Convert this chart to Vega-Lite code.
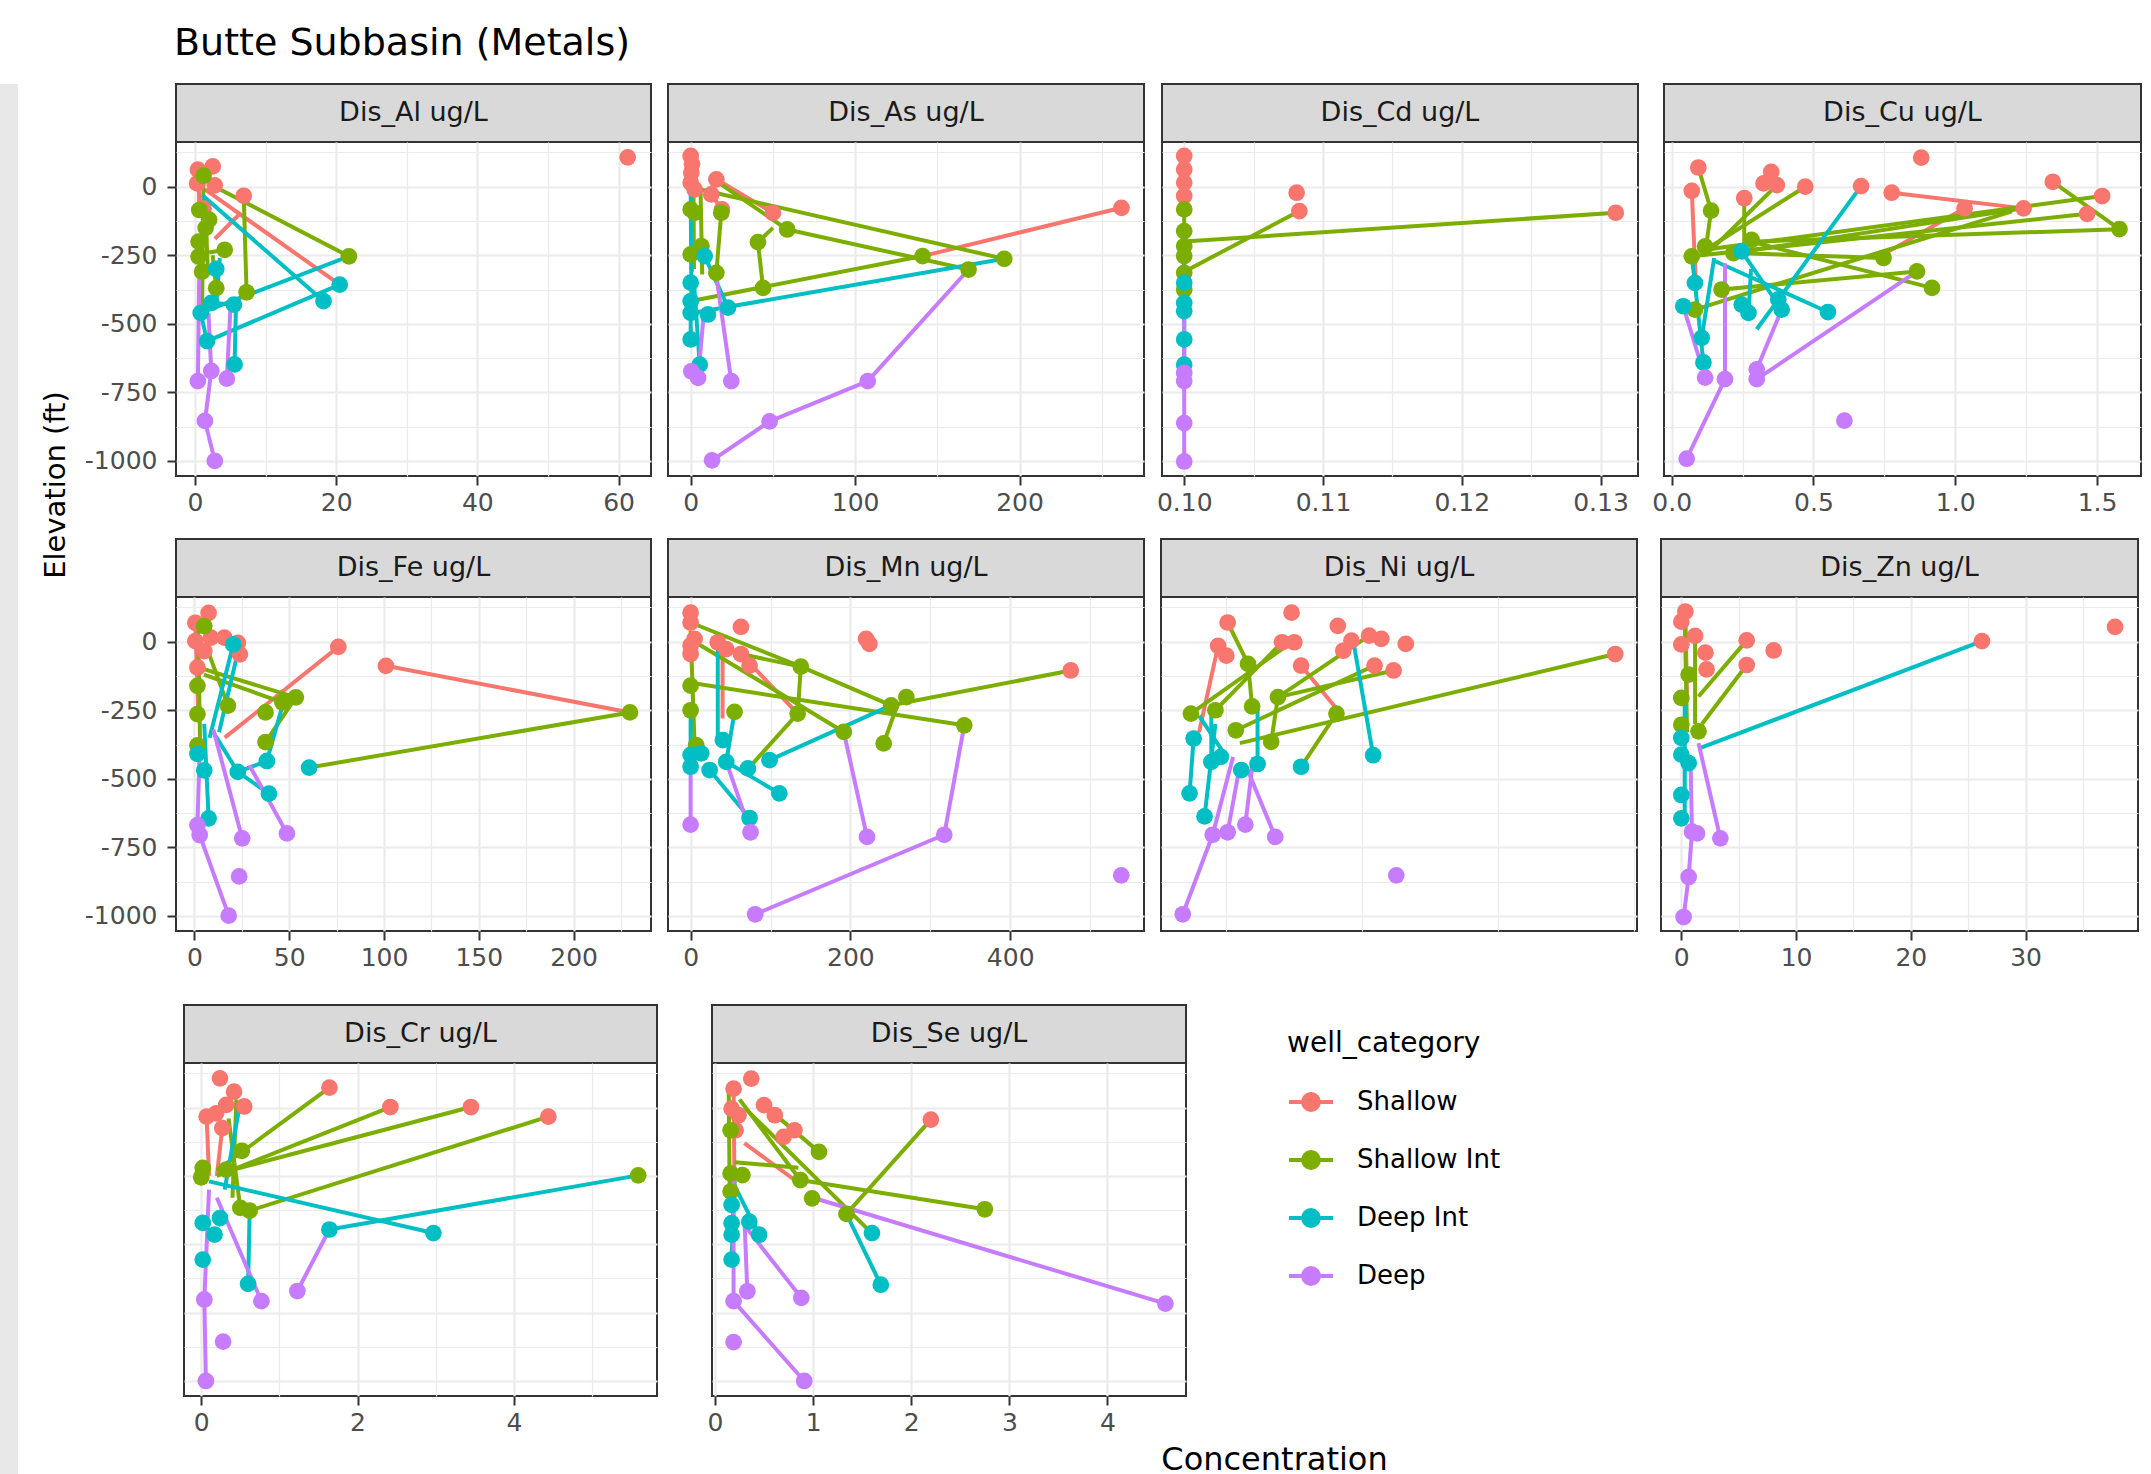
{
  "$schema": "https://vega.github.io/schema/vega-lite/v6.json",
  "background": "white",
  "padding": {"left": 0, "top": 25, "right": 5, "bottom": 0},
  "title": {"text": "Butte Subbasin (Metals)", "anchor": "start", "frame": "group", "fontSize": 38, "fontWeight": "normal", "color": "#000000", "offset": 20, "font": "DejaVu Sans", "dx": 174},
  "config": {
    "font": "DejaVu Sans",
    "view": {"stroke": "#333333", "strokeWidth": 2},
    "axis": {"domain": false, "gridColor": "#EBEBEB", "tickColor": "#333333", "tickWidth": 2, "tickSize": 9, "labelFontSize": 25, "labelColor": "#4D4D4D", "labelPadding": 5, "labelOverlap": false, "labelFlush": false, "labelBound": false, "titleFontSize": 32, "titleFontWeight": "normal", "titleColor": "#000000"},
    "axisY": {"labelPadding": 10}
  },
  "datasets": {
    "pts": [
      {"m":"Al","c":"Shallow","x":0.4,"y":62},{"m":"Al","c":"Shallow","x":2.5,"y":74},{"m":"Al","c":"Shallow","x":0.3,"y":12},{"m":"Al","c":"Shallow","x":2.8,"y":5},{"m":"Al","c":"Shallow","x":6.9,"y":-33},{"m":"Al","c":"Shallow","x":61.3,"y":107},{"m":"Al","c":"Shallow","x":1.2,"y":-80},
      {"m":"Al","c":"Shallow Int","x":0.6,"y":-85},{"m":"Al","c":"Shallow Int","x":0.5,"y":-200},{"m":"Al","c":"Shallow Int","x":0.5,"y":-255},{"m":"Al","c":"Shallow Int","x":1.0,"y":-310},{"m":"Al","c":"Shallow Int","x":4.2,"y":-230},{"m":"Al","c":"Shallow Int","x":3.0,"y":-370},{"m":"Al","c":"Shallow Int","x":7.3,"y":-385},{"m":"Al","c":"Shallow Int","x":21.8,"y":-254},{"m":"Al","c":"Shallow Int","x":1.5,"y":-150},{"m":"Al","c":"Shallow Int","x":2.0,"y":-120},{"m":"Al","c":"Shallow Int","x":1.2,"y":40},
      {"m":"Al","c":"Deep Int","x":20.5,"y":-357},{"m":"Al","c":"Deep Int","x":18.2,"y":-417},{"m":"Al","c":"Deep Int","x":5.6,"y":-648},{"m":"Al","c":"Deep Int","x":1.7,"y":-563},{"m":"Al","c":"Deep Int","x":0.8,"y":-460},{"m":"Al","c":"Deep Int","x":2.3,"y":-424},{"m":"Al","c":"Deep Int","x":5.5,"y":-430},{"m":"Al","c":"Deep Int","x":3.0,"y":-300},
      {"m":"Al","c":"Deep","x":0.4,"y":-709},{"m":"Al","c":"Deep","x":2.3,"y":-672},{"m":"Al","c":"Deep","x":4.5,"y":-700},{"m":"Al","c":"Deep","x":1.4,"y":-854},{"m":"Al","c":"Deep","x":2.8,"y":-1000},

      {"m":"As","c":"Shallow","x":0,"y":112},{"m":"As","c":"Shallow","x":0.8,"y":82},{"m":"As","c":"Shallow","x":0.4,"y":51},{"m":"As","c":"Shallow","x":0,"y":15},{"m":"As","c":"Shallow","x":15.6,"y":27},{"m":"As","c":"Shallow","x":12.5,"y":-28},{"m":"As","c":"Shallow","x":19,"y":-83},{"m":"As","c":"Shallow","x":50,"y":-95},{"m":"As","c":"Shallow","x":262,"y":-77},{"m":"As","c":"Shallow","x":2.4,"y":-10},
      {"m":"As","c":"Shallow Int","x":190.7,"y":-263},{"m":"As","c":"Shallow Int","x":169,"y":-302},{"m":"As","c":"Shallow Int","x":141,"y":-253},{"m":"As","c":"Shallow Int","x":58.7,"y":-156},{"m":"As","c":"Shallow Int","x":40.9,"y":-202},{"m":"As","c":"Shallow Int","x":44,"y":-369},{"m":"As","c":"Shallow Int","x":15.6,"y":-314},{"m":"As","c":"Shallow Int","x":6.5,"y":-217},{"m":"As","c":"Shallow Int","x":2.4,"y":-95},{"m":"As","c":"Shallow Int","x":0,"y":-83},{"m":"As","c":"Shallow Int","x":0,"y":-247},{"m":"As","c":"Shallow Int","x":18.6,"y":-95},
      {"m":"As","c":"Deep Int","x":0,"y":-350},{"m":"As","c":"Deep Int","x":0,"y":-417},{"m":"As","c":"Deep Int","x":0,"y":-460},{"m":"As","c":"Deep Int","x":0,"y":-557},{"m":"As","c":"Deep Int","x":5.5,"y":-649},{"m":"As","c":"Deep Int","x":22.7,"y":-441},{"m":"As","c":"Deep Int","x":10.5,"y":-466},{"m":"As","c":"Deep Int","x":8.5,"y":-253},
      {"m":"As","c":"Deep","x":0.4,"y":-673},{"m":"As","c":"Deep","x":4.5,"y":-697},{"m":"As","c":"Deep","x":24.7,"y":-709},{"m":"As","c":"Deep","x":107.7,"y":-709},{"m":"As","c":"Deep","x":48,"y":-856},{"m":"As","c":"Deep","x":13,"y":-998},

      {"m":"Cd","c":"Shallow","x":0.1,"y":112},{"m":"Cd","c":"Shallow","x":0.1,"y":63},{"m":"Cd","c":"Shallow","x":0.1,"y":15},{"m":"Cd","c":"Shallow","x":0.1,"y":-34},{"m":"Cd","c":"Shallow","x":0.1081,"y":-22},{"m":"Cd","c":"Shallow","x":0.1083,"y":-89},{"m":"Cd","c":"Shallow","x":0.1311,"y":-95},
      {"m":"Cd","c":"Shallow Int","x":0.1,"y":-83},{"m":"Cd","c":"Shallow Int","x":0.1,"y":-162},{"m":"Cd","c":"Shallow Int","x":0.1,"y":-217},{"m":"Cd","c":"Shallow Int","x":0.1,"y":-253},{"m":"Cd","c":"Shallow Int","x":0.1,"y":-314},{"m":"Cd","c":"Shallow Int","x":0.1,"y":-375},
      {"m":"Cd","c":"Deep Int","x":0.1,"y":-350},{"m":"Cd","c":"Deep Int","x":0.1,"y":-424},{"m":"Cd","c":"Deep Int","x":0.1,"y":-454},{"m":"Cd","c":"Deep Int","x":0.1,"y":-557},{"m":"Cd","c":"Deep Int","x":0.1,"y":-649},
      {"m":"Cd","c":"Deep","x":0.1,"y":-679},{"m":"Cd","c":"Deep","x":0.1,"y":-709},{"m":"Cd","c":"Deep","x":0.1,"y":-862},{"m":"Cd","c":"Deep","x":0.1,"y":-1002},

      {"m":"Cu","c":"Shallow","x":0.88,"y":106},{"m":"Cu","c":"Shallow","x":0.094,"y":70},{"m":"Cu","c":"Shallow","x":0.071,"y":-15},{"m":"Cu","c":"Shallow","x":0.256,"y":-42},{"m":"Cu","c":"Shallow","x":0.324,"y":12},{"m":"Cu","c":"Shallow","x":0.351,"y":54},{"m":"Cu","c":"Shallow","x":0.371,"y":6},{"m":"Cu","c":"Shallow","x":0.471,"y":0},{"m":"Cu","c":"Shallow","x":0.668,"y":2},{"m":"Cu","c":"Shallow","x":0.776,"y":-22},{"m":"Cu","c":"Shallow","x":1.033,"y":-79},{"m":"Cu","c":"Shallow","x":1.241,"y":-79},{"m":"Cu","c":"Shallow","x":1.344,"y":18},{"m":"Cu","c":"Shallow","x":1.518,"y":-34},{"m":"Cu","c":"Shallow","x":1.465,"y":-99},
      {"m":"Cu","c":"Shallow Int","x":0.139,"y":-87},{"m":"Cu","c":"Shallow Int","x":1.579,"y":-155},{"m":"Cu","c":"Shallow Int","x":0.918,"y":-369},{"m":"Cu","c":"Shallow Int","x":0.865,"y":-309},{"m":"Cu","c":"Shallow Int","x":0.747,"y":-260},{"m":"Cu","c":"Shallow Int","x":0.282,"y":-194},{"m":"Cu","c":"Shallow Int","x":0.218,"y":-242},{"m":"Cu","c":"Shallow Int","x":0.071,"y":-254},{"m":"Cu","c":"Shallow Int","x":0.118,"y":-218},{"m":"Cu","c":"Shallow Int","x":0.176,"y":-375},{"m":"Cu","c":"Shallow Int","x":0.082,"y":-448},
      {"m":"Cu","c":"Deep Int","x":0.082,"y":-351},{"m":"Cu","c":"Deep Int","x":0.041,"y":-436},{"m":"Cu","c":"Deep Int","x":0.106,"y":-551},{"m":"Cu","c":"Deep Int","x":0.112,"y":-641},{"m":"Cu","c":"Deep Int","x":0.247,"y":-430},{"m":"Cu","c":"Deep Int","x":0.271,"y":-460},{"m":"Cu","c":"Deep Int","x":0.376,"y":-411},{"m":"Cu","c":"Deep Int","x":0.388,"y":-448},{"m":"Cu","c":"Deep Int","x":0.551,"y":-457},{"m":"Cu","c":"Deep Int","x":0.247,"y":-236},
      {"m":"Cu","c":"Deep","x":0.118,"y":-696},{"m":"Cu","c":"Deep","x":0.188,"y":-702},{"m":"Cu","c":"Deep","x":0.3,"y":-702},{"m":"Cu","c":"Deep","x":0.3,"y":-666},{"m":"Cu","c":"Deep","x":0.053,"y":-992},{"m":"Cu","c":"Deep","x":0.609,"y":-853},

      {"m":"Fe","c":"Shallow","x":0.5,"y":69},{"m":"Fe","c":"Shallow","x":7.5,"y":105},{"m":"Fe","c":"Shallow","x":0.5,"y":2},{"m":"Fe","c":"Shallow","x":8.7,"y":15},{"m":"Fe","c":"Shallow","x":15.8,"y":15},{"m":"Fe","c":"Shallow","x":22.9,"y":-4},{"m":"Fe","c":"Shallow","x":24,"y":-46},{"m":"Fe","c":"Shallow","x":1.6,"y":-94},{"m":"Fe","c":"Shallow","x":5.2,"y":-34},{"m":"Fe","c":"Shallow","x":75.9,"y":-19},{"m":"Fe","c":"Shallow","x":101,"y":-88},
      {"m":"Fe","c":"Shallow Int","x":229.7,"y":-258},{"m":"Fe","c":"Shallow Int","x":53.5,"y":-203},{"m":"Fe","c":"Shallow Int","x":46.4,"y":-221},{"m":"Fe","c":"Shallow Int","x":37.5,"y":-258},{"m":"Fe","c":"Shallow Int","x":37.5,"y":-366},{"m":"Fe","c":"Shallow Int","x":17.7,"y":-233},{"m":"Fe","c":"Shallow Int","x":1.6,"y":-161},{"m":"Fe","c":"Shallow Int","x":1.6,"y":-264},{"m":"Fe","c":"Shallow Int","x":1.6,"y":-378},{"m":"Fe","c":"Shallow Int","x":5.2,"y":57},
      {"m":"Fe","c":"Deep Int","x":60.5,"y":-459},{"m":"Fe","c":"Deep Int","x":38.2,"y":-435},{"m":"Fe","c":"Deep Int","x":39.3,"y":-554},{"m":"Fe","c":"Deep Int","x":22.9,"y":-475},{"m":"Fe","c":"Deep Int","x":7.5,"y":-644},{"m":"Fe","c":"Deep Int","x":5.2,"y":-469},{"m":"Fe","c":"Deep Int","x":1.6,"y":-409},{"m":"Fe","c":"Deep Int","x":20.5,"y":-10},
      {"m":"Fe","c":"Deep","x":1.6,"y":-669},{"m":"Fe","c":"Deep","x":2.8,"y":-705},{"m":"Fe","c":"Deep","x":25.2,"y":-717},{"m":"Fe","c":"Deep","x":48.8,"y":-699},{"m":"Fe","c":"Deep","x":23.6,"y":-856},{"m":"Fe","c":"Deep","x":18.1,"y":-999},

      {"m":"Mn","c":"Shallow","x":0,"y":106},{"m":"Mn","c":"Shallow","x":0,"y":70},{"m":"Mn","c":"Shallow","x":63,"y":54},{"m":"Mn","c":"Shallow","x":5,"y":10},{"m":"Mn","c":"Shallow","x":0,"y":-14},{"m":"Mn","c":"Shallow","x":0,"y":-45},{"m":"Mn","c":"Shallow","x":34,"y":-2},{"m":"Mn","c":"Shallow","x":44.6,"y":-27},{"m":"Mn","c":"Shallow","x":63,"y":-45},{"m":"Mn","c":"Shallow","x":73.8,"y":-87},{"m":"Mn","c":"Shallow","x":219.6,"y":10},{"m":"Mn","c":"Shallow","x":223.8,"y":-8},{"m":"Mn","c":"Shallow","x":475.8,"y":-105},
      {"m":"Mn","c":"Shallow Int","x":138,"y":-91},{"m":"Mn","c":"Shallow Int","x":134,"y":-262},{"m":"Mn","c":"Shallow Int","x":251,"y":-232},{"m":"Mn","c":"Shallow Int","x":270,"y":-202},{"m":"Mn","c":"Shallow Int","x":342.5,"y":-305},{"m":"Mn","c":"Shallow Int","x":191.7,"y":-329},{"m":"Mn","c":"Shallow Int","x":241.7,"y":-371},{"m":"Mn","c":"Shallow Int","x":55,"y":-256},{"m":"Mn","c":"Shallow Int","x":0,"y":-160},{"m":"Mn","c":"Shallow Int","x":0,"y":-250},{"m":"Mn","c":"Shallow Int","x":7,"y":-377},
      {"m":"Mn","c":"Deep Int","x":0,"y":-413},{"m":"Mn","c":"Deep Int","x":0,"y":-456},{"m":"Mn","c":"Deep Int","x":13.3,"y":-407},{"m":"Mn","c":"Deep Int","x":23.8,"y":-468},{"m":"Mn","c":"Deep Int","x":40.4,"y":-359},{"m":"Mn","c":"Deep Int","x":44.6,"y":-438},{"m":"Mn","c":"Deep Int","x":71.7,"y":-462},{"m":"Mn","c":"Deep Int","x":98.8,"y":-432},{"m":"Mn","c":"Deep Int","x":111,"y":-553},{"m":"Mn","c":"Deep Int","x":73.8,"y":-643},
      {"m":"Mn","c":"Deep","x":0,"y":-667},{"m":"Mn","c":"Deep","x":75,"y":-695},{"m":"Mn","c":"Deep","x":220.8,"y":-712},{"m":"Mn","c":"Deep","x":317.5,"y":-704},{"m":"Mn","c":"Deep","x":80.8,"y":-994},{"m":"Mn","c":"Deep","x":539,"y":-852},

      {"m":"Ni","c":"Shallow","x":0.98,"y":106},{"m":"Ni","c":"Shallow","x":0.51,"y":70},{"m":"Ni","c":"Shallow","x":0.44,"y":-15},{"m":"Ni","c":"Shallow","x":0.5,"y":-51},{"m":"Ni","c":"Shallow","x":0.91,"y":-2},{"m":"Ni","c":"Shallow","x":1.0,"y":-2},{"m":"Ni","c":"Shallow","x":1.32,"y":58},{"m":"Ni","c":"Shallow","x":1.42,"y":4},{"m":"Ni","c":"Shallow","x":1.36,"y":-33},{"m":"Ni","c":"Shallow","x":1.55,"y":22},{"m":"Ni","c":"Shallow","x":1.64,"y":10},{"m":"Ni","c":"Shallow","x":1.82,"y":-8},{"m":"Ni","c":"Shallow","x":1.73,"y":-105},{"m":"Ni","c":"Shallow","x":1.59,"y":-87},{"m":"Ni","c":"Shallow","x":1.05,"y":-87},{"m":"Ni","c":"Shallow","x":3.36,"y":-45},
      {"m":"Ni","c":"Shallow Int","x":0.66,"y":-81},{"m":"Ni","c":"Shallow Int","x":0.24,"y":-262},{"m":"Ni","c":"Shallow Int","x":0.42,"y":-250},{"m":"Ni","c":"Shallow Int","x":0.69,"y":-236},{"m":"Ni","c":"Shallow Int","x":0.88,"y":-202},{"m":"Ni","c":"Shallow Int","x":1.31,"y":-262},{"m":"Ni","c":"Shallow Int","x":0.83,"y":-365},{"m":"Ni","c":"Shallow Int","x":0.57,"y":-323},
      {"m":"Ni","c":"Deep Int","x":0.26,"y":-353},{"m":"Ni","c":"Deep Int","x":0.23,"y":-553},{"m":"Ni","c":"Deep Int","x":0.34,"y":-637},{"m":"Ni","c":"Deep Int","x":0.39,"y":-438},{"m":"Ni","c":"Deep Int","x":0.46,"y":-420},{"m":"Ni","c":"Deep Int","x":0.61,"y":-468},{"m":"Ni","c":"Deep Int","x":0.73,"y":-446},{"m":"Ni","c":"Deep Int","x":1.05,"y":-456},{"m":"Ni","c":"Deep Int","x":1.58,"y":-414},
      {"m":"Ni","c":"Deep","x":0.4,"y":-704},{"m":"Ni","c":"Deep","x":0.51,"y":-695},{"m":"Ni","c":"Deep","x":0.64,"y":-667},{"m":"Ni","c":"Deep","x":0.86,"y":-712},{"m":"Ni","c":"Deep","x":0.18,"y":-994},{"m":"Ni","c":"Deep","x":1.75,"y":-852},

      {"m":"Zn","c":"Shallow","x":0.35,"y":110},{"m":"Zn","c":"Shallow","x":0,"y":73},{"m":"Zn","c":"Shallow","x":1.2,"y":21},{"m":"Zn","c":"Shallow","x":0,"y":-10},{"m":"Zn","c":"Shallow","x":2.1,"y":-40},{"m":"Zn","c":"Shallow","x":2.2,"y":-101},{"m":"Zn","c":"Shallow","x":5.7,"y":5},{"m":"Zn","c":"Shallow","x":8.05,"y":-32},{"m":"Zn","c":"Shallow","x":5.7,"y":-85},{"m":"Zn","c":"Shallow","x":26.2,"y":2},{"m":"Zn","c":"Shallow","x":37.8,"y":54},
      {"m":"Zn","c":"Shallow Int","x":0,"y":-205},{"m":"Zn","c":"Shallow Int","x":0,"y":-303},{"m":"Zn","c":"Shallow Int","x":1.5,"y":-327},{"m":"Zn","c":"Shallow Int","x":0.64,"y":-120},
      {"m":"Zn","c":"Deep Int","x":0,"y":-351},{"m":"Zn","c":"Deep Int","x":0,"y":-412},{"m":"Zn","c":"Deep Int","x":0.64,"y":-443},{"m":"Zn","c":"Deep Int","x":0,"y":-559},{"m":"Zn","c":"Deep Int","x":0,"y":-644},
      {"m":"Zn","c":"Deep","x":0.93,"y":-693},{"m":"Zn","c":"Deep","x":1.37,"y":-699},{"m":"Zn","c":"Deep","x":3.4,"y":-717},{"m":"Zn","c":"Deep","x":0.64,"y":-858},{"m":"Zn","c":"Deep","x":0.2,"y":-1004},

      {"m":"Cr","c":"Shallow","x":0.24,"y":107},{"m":"Cr","c":"Shallow","x":0.42,"y":58},{"m":"Cr","c":"Shallow","x":0.07,"y":-33},{"m":"Cr","c":"Shallow","x":0.19,"y":-21},{"m":"Cr","c":"Shallow","x":0.32,"y":10},{"m":"Cr","c":"Shallow","x":0.55,"y":4},{"m":"Cr","c":"Shallow","x":0.27,"y":-75},{"m":"Cr","c":"Shallow","x":1.64,"y":73},{"m":"Cr","c":"Shallow","x":2.42,"y":2},{"m":"Cr","c":"Shallow","x":3.45,"y":2},{"m":"Cr","c":"Shallow","x":4.44,"y":-33},
      {"m":"Cr","c":"Shallow Int","x":0.52,"y":-158},{"m":"Cr","c":"Shallow Int","x":0.02,"y":-221},{"m":"Cr","c":"Shallow Int","x":0,"y":-255},{"m":"Cr","c":"Shallow Int","x":0.5,"y":-367},{"m":"Cr","c":"Shallow Int","x":0.62,"y":-377},{"m":"Cr","c":"Shallow Int","x":5.59,"y":-248},{"m":"Cr","c":"Shallow Int","x":0.32,"y":-227},
      {"m":"Cr","c":"Deep Int","x":2.97,"y":-459},{"m":"Cr","c":"Deep Int","x":1.64,"y":-446},{"m":"Cr","c":"Deep Int","x":0.02,"y":-422},{"m":"Cr","c":"Deep Int","x":0.17,"y":-465},{"m":"Cr","c":"Deep Int","x":0.02,"y":-556},{"m":"Cr","c":"Deep Int","x":0.6,"y":-645},{"m":"Cr","c":"Deep Int","x":0.24,"y":-404},
      {"m":"Cr","c":"Deep","x":0.04,"y":-702},{"m":"Cr","c":"Deep","x":0.77,"y":-708},{"m":"Cr","c":"Deep","x":1.23,"y":-671},{"m":"Cr","c":"Deep","x":0.28,"y":-856},{"m":"Cr","c":"Deep","x":0.06,"y":-1000},

      {"m":"Se","c":"Shallow","x":0.37,"y":106},{"m":"Se","c":"Shallow","x":0.19,"y":69},{"m":"Se","c":"Shallow","x":0.17,"y":-4},{"m":"Se","c":"Shallow","x":0.24,"y":-28},{"m":"Se","c":"Shallow","x":0.5,"y":9},{"m":"Se","c":"Shallow","x":0.61,"y":-28},{"m":"Se","c":"Shallow","x":0.81,"y":-83},{"m":"Se","c":"Shallow","x":0.7,"y":-107},{"m":"Se","c":"Shallow","x":2.2,"y":-44},{"m":"Se","c":"Shallow","x":0.21,"y":-83},
      {"m":"Se","c":"Shallow Int","x":1.06,"y":-162},{"m":"Se","c":"Shallow Int","x":0.87,"y":-265},{"m":"Se","c":"Shallow Int","x":0.99,"y":-332},{"m":"Se","c":"Shallow Int","x":1.34,"y":-389},{"m":"Se","c":"Shallow Int","x":2.75,"y":-372},{"m":"Se","c":"Shallow Int","x":0.16,"y":-83},{"m":"Se","c":"Shallow Int","x":0.16,"y":-241},{"m":"Se","c":"Shallow Int","x":0.16,"y":-307},{"m":"Se","c":"Shallow Int","x":0.28,"y":-247},
      {"m":"Se","c":"Deep Int","x":1.6,"y":-459},{"m":"Se","c":"Deep Int","x":1.69,"y":-648},{"m":"Se","c":"Deep Int","x":0.17,"y":-356},{"m":"Se","c":"Deep Int","x":0.17,"y":-423},{"m":"Se","c":"Deep Int","x":0.17,"y":-465},{"m":"Se","c":"Deep Int","x":0.45,"y":-465},{"m":"Se","c":"Deep Int","x":0.17,"y":-556},{"m":"Se","c":"Deep Int","x":0.35,"y":-417},
      {"m":"Se","c":"Deep","x":4.59,"y":-717},{"m":"Se","c":"Deep","x":0.19,"y":-708},{"m":"Se","c":"Deep","x":0.33,"y":-672},{"m":"Se","c":"Deep","x":0.88,"y":-696},{"m":"Se","c":"Deep","x":0.19,"y":-858},{"m":"Se","c":"Deep","x":0.91,"y":-1000}
    ],
    "seg": [
      {"m":"Al","c":"Shallow","x":1.4,"y":-10,"x2":20.5,"y2":-357},{"m":"Al","c":"Shallow","x":2.8,"y":-190,"x2":6.5,"y2":-95},{"m":"Al","c":"Shallow","x":0.5,"y":60,"x2":0.6,"y2":-85},
      {"m":"Al","c":"Shallow Int","x":2.8,"y":0,"x2":21.8,"y2":-254},{"m":"Al","c":"Shallow Int","x":6.9,"y":-40,"x2":7.3,"y2":-385},{"m":"Al","c":"Shallow Int","x":1.2,"y":40,"x2":1.0,"y2":-450},{"m":"Al","c":"Shallow Int","x":1.5,"y":-100,"x2":1.8,"y2":-300},{"m":"Al","c":"Shallow Int","x":2.0,"y":-240,"x2":4.2,"y2":-230},{"m":"Al","c":"Shallow Int","x":3.0,"y":-370,"x2":2.5,"y2":-250},
      {"m":"Al","c":"Deep Int","x":21.8,"y":-254,"x2":0.8,"y2":-460},{"m":"Al","c":"Deep Int","x":1.7,"y":-563,"x2":20.5,"y2":-357},{"m":"Al","c":"Deep Int","x":1.0,"y":-30,"x2":18.2,"y2":-417},{"m":"Al","c":"Deep Int","x":3.5,"y":-260,"x2":3.0,"y2":-430},{"m":"Al","c":"Deep Int","x":5.8,"y":-430,"x2":5.6,"y2":-648},{"m":"Al","c":"Deep Int","x":0.8,"y":-460,"x2":1.7,"y2":-563},{"m":"Al","c":"Deep Int","x":2.3,"y":-424,"x2":5.5,"y2":-430},
      {"m":"Al","c":"Deep","x":0.6,"y":-310,"x2":0.4,"y2":-709},{"m":"Al","c":"Deep","x":2.3,"y":-672,"x2":1.4,"y2":-854},{"m":"Al","c":"Deep","x":1.4,"y":-854,"x2":2.8,"y2":-1000},{"m":"Al","c":"Deep","x":5.0,"y":-450,"x2":4.5,"y2":-700},{"m":"Al","c":"Deep","x":1.9,"y":-460,"x2":2.3,"y2":-672},

      {"m":"As","c":"Shallow","x":0.8,"y":100,"x2":0.8,"y2":-310},{"m":"As","c":"Shallow","x":12.5,"y":-28,"x2":19,"y2":-83},{"m":"As","c":"Shallow","x":262,"y":-77,"x2":141,"y2":-253},{"m":"As","c":"Shallow","x":15.6,"y":27,"x2":50,"y2":-95},
      {"m":"As","c":"Shallow Int","x":6,"y":-10,"x2":190.7,"y2":-263},{"m":"As","c":"Shallow Int","x":18,"y":10,"x2":58.7,"y2":-156},{"m":"As","c":"Shallow Int","x":58.7,"y":-156,"x2":169,"y2":-302},{"m":"As","c":"Shallow Int","x":40.9,"y":-202,"x2":44,"y2":-369},{"m":"As","c":"Shallow Int","x":50,"y":-150,"x2":40.9,"y2":-202},{"m":"As","c":"Shallow Int","x":2,"y":-415,"x2":141,"y2":-253},{"m":"As","c":"Shallow Int","x":1.6,"y":70,"x2":2,"y2":-300},{"m":"As","c":"Shallow Int","x":6,"y":-10,"x2":7,"y2":-320},{"m":"As","c":"Shallow Int","x":18.6,"y":-95,"x2":15.6,"y2":-314},
      {"m":"As","c":"Deep Int","x":190.7,"y":-263,"x2":2,"y2":-460},{"m":"As","c":"Deep Int","x":0,"y":-15,"x2":0.5,"y2":-460},{"m":"As","c":"Deep Int","x":8.5,"y":-253,"x2":22.7,"y2":-441},{"m":"As","c":"Deep Int","x":2,"y":-350,"x2":5.5,"y2":-649},{"m":"As","c":"Deep Int","x":0,"y":-460,"x2":0,"y2":-557},
      {"m":"As","c":"Deep","x":13,"y":-998,"x2":48,"y2":-856},{"m":"As","c":"Deep","x":48,"y":-856,"x2":107.7,"y2":-709},{"m":"As","c":"Deep","x":107.7,"y":-709,"x2":169,"y2":-302},{"m":"As","c":"Deep","x":15,"y":-300,"x2":24.7,"y2":-709},{"m":"As","c":"Deep","x":8,"y":-460,"x2":4.5,"y2":-697},

      {"m":"Cd","c":"Shallow","x":0.1,"y":112,"x2":0.1,"y2":-34},
      {"m":"Cd","c":"Shallow Int","x":0.1,"y":-200,"x2":0.1311,"y2":-95},{"m":"Cd","c":"Shallow Int","x":0.1,"y":-310,"x2":0.1083,"y2":-89},{"m":"Cd","c":"Shallow Int","x":0.1,"y":60,"x2":0.1,"y2":-400},
      {"m":"Cd","c":"Deep Int","x":0.1,"y":-260,"x2":0.1,"y2":-650},
      {"m":"Cd","c":"Deep","x":0.1,"y":-470,"x2":0.1,"y2":-1002},

      {"m":"Cu","c":"Shallow","x":0.776,"y":-22,"x2":1.241,"y2":-79},{"m":"Cu","c":"Shallow","x":1.033,"y":-79,"x2":0.75,"y2":-245},{"m":"Cu","c":"Shallow","x":0.071,"y":-15,"x2":0.085,"y2":-350},
      {"m":"Cu","c":"Shallow Int","x":0.094,"y":70,"x2":0.139,"y2":-87},{"m":"Cu","c":"Shallow Int","x":0.139,"y":-87,"x2":0.12,"y2":-230},{"m":"Cu","c":"Shallow Int","x":1.344,"y":18,"x2":1.579,"y2":-155},{"m":"Cu","c":"Shallow Int","x":1.579,"y":-155,"x2":0.3,"y2":-200},{"m":"Cu","c":"Shallow Int","x":1.518,"y":-34,"x2":0.118,"y2":-230},{"m":"Cu","c":"Shallow Int","x":1.465,"y":-99,"x2":0.07,"y2":-254},{"m":"Cu","c":"Shallow Int","x":1.241,"y":-79,"x2":0.218,"y2":-242},{"m":"Cu","c":"Shallow Int","x":0.747,"y":-260,"x2":0.218,"y2":-242},{"m":"Cu","c":"Shallow Int","x":0.865,"y":-309,"x2":0.176,"y2":-375},{"m":"Cu","c":"Shallow Int","x":0.918,"y":-369,"x2":0.28,"y2":-200},{"m":"Cu","c":"Shallow Int","x":1.2,"y":-90,"x2":0.082,"y2":-448},{"m":"Cu","c":"Shallow Int","x":0.471,"y":0,"x2":0.12,"y2":-230},{"m":"Cu","c":"Shallow Int","x":0.371,"y":6,"x2":0.139,"y2":-230},{"m":"Cu","c":"Shallow Int","x":0.256,"y":-42,"x2":0.256,"y2":-250},
      {"m":"Cu","c":"Deep Int","x":0.668,"y":2,"x2":0.3,"y2":-520},{"m":"Cu","c":"Deep Int","x":0.247,"y":-236,"x2":0.388,"y2":-448},{"m":"Cu","c":"Deep Int","x":0.15,"y":-270,"x2":0.551,"y2":-457},{"m":"Cu","c":"Deep Int","x":0.071,"y":-254,"x2":0.082,"y2":-351},{"m":"Cu","c":"Deep Int","x":0.082,"y":-351,"x2":0.112,"y2":-641},{"m":"Cu","c":"Deep Int","x":0.15,"y":-260,"x2":0.106,"y2":-551},{"m":"Cu","c":"Deep Int","x":0.28,"y":-300,"x2":0.271,"y2":-460},
      {"m":"Cu","c":"Deep","x":0.041,"y":-436,"x2":0.118,"y2":-696},{"m":"Cu","c":"Deep","x":0.188,"y":-280,"x2":0.188,"y2":-702},{"m":"Cu","c":"Deep","x":0.188,"y":-702,"x2":0.053,"y2":-992},{"m":"Cu","c":"Deep","x":0.388,"y":-448,"x2":0.3,"y2":-666},{"m":"Cu","c":"Deep","x":0.3,"y":-702,"x2":0.865,"y2":-309},

      {"m":"Fe","c":"Shallow","x":101,"y":-88,"x2":229.7,"y2":-258},{"m":"Fe","c":"Shallow","x":75.9,"y":-19,"x2":16,"y2":-350},{"m":"Fe","c":"Shallow","x":0.5,"y":69,"x2":2,"y2":-250},
      {"m":"Fe","c":"Shallow Int","x":229.7,"y":-258,"x2":60.5,"y2":-459},{"m":"Fe","c":"Shallow Int","x":5,"y":-100,"x2":53.5,"y2":-203},{"m":"Fe","c":"Shallow Int","x":5,"y":-120,"x2":46.4,"y2":-221},{"m":"Fe","c":"Shallow Int","x":53.5,"y":-203,"x2":37.5,"y2":-366},{"m":"Fe","c":"Shallow Int","x":2,"y":60,"x2":3,"y2":-380},{"m":"Fe","c":"Shallow Int","x":8,"y":-50,"x2":17.7,"y2":-233},
      {"m":"Fe","c":"Deep Int","x":20.5,"y":-10,"x2":8,"y2":-350},{"m":"Fe","c":"Deep Int","x":22.5,"y":-50,"x2":13,"y2":-330},{"m":"Fe","c":"Deep Int","x":47,"y":-220,"x2":38.2,"y2":-435},{"m":"Fe","c":"Deep Int","x":22.9,"y":-475,"x2":39.3,"y2":-554},{"m":"Fe","c":"Deep Int","x":10,"y":-330,"x2":22.9,"y2":-475},{"m":"Fe","c":"Deep Int","x":5.2,"y":-300,"x2":7.5,"y2":-644},{"m":"Fe","c":"Deep Int","x":38.2,"y":-435,"x2":22.9,"y2":-475},
      {"m":"Fe","c":"Deep","x":2.8,"y":-705,"x2":18.1,"y2":-999},{"m":"Fe","c":"Deep","x":10,"y":-320,"x2":25.2,"y2":-717},{"m":"Fe","c":"Deep","x":29,"y":-450,"x2":48.8,"y2":-699},{"m":"Fe","c":"Deep","x":3,"y":-350,"x2":1.6,"y2":-669},

      {"m":"Mn","c":"Shallow","x":40,"y":-2,"x2":40,"y2":-280},{"m":"Mn","c":"Shallow","x":63,"y":-45,"x2":130,"y2":-250},
      {"m":"Mn","c":"Shallow Int","x":0,"y":70,"x2":138,"y2":-91},{"m":"Mn","c":"Shallow Int","x":63,"y":-45,"x2":138,"y2":-91},{"m":"Mn","c":"Shallow Int","x":138,"y":-91,"x2":251,"y2":-232},{"m":"Mn","c":"Shallow Int","x":251,"y":-232,"x2":475.8,"y2":-105},{"m":"Mn","c":"Shallow Int","x":138,"y":-91,"x2":134,"y2":-262},{"m":"Mn","c":"Shallow Int","x":0,"y":-150,"x2":342.5,"y2":-305},{"m":"Mn","c":"Shallow Int","x":5,"y":0,"x2":191.7,"y2":-329},{"m":"Mn","c":"Shallow Int","x":260,"y":-220,"x2":241.7,"y2":-371},{"m":"Mn","c":"Shallow Int","x":134,"y":-262,"x2":73,"y2":-460},{"m":"Mn","c":"Shallow Int","x":0,"y":40,"x2":5,"y2":-377},
      {"m":"Mn","c":"Deep Int","x":251,"y":-232,"x2":98.8,"y2":-432},{"m":"Mn","c":"Deep Int","x":34,"y":-10,"x2":34,"y2":-359},{"m":"Mn","c":"Deep Int","x":55,"y":-256,"x2":44.6,"y2":-438},{"m":"Mn","c":"Deep Int","x":44.6,"y":-438,"x2":111,"y2":-553},{"m":"Mn","c":"Deep Int","x":23.8,"y":-468,"x2":73.8,"y2":-643},{"m":"Mn","c":"Deep Int","x":0,"y":-250,"x2":0,"y2":-456},
      {"m":"Mn","c":"Deep","x":80.8,"y":-994,"x2":317.5,"y2":-704},{"m":"Mn","c":"Deep","x":317.5,"y":-704,"x2":342.5,"y2":-305},{"m":"Mn","c":"Deep","x":191.7,"y":-329,"x2":220.8,"y2":-712},{"m":"Mn","c":"Deep","x":45,"y":-440,"x2":75,"y2":-695},{"m":"Mn","c":"Deep","x":0,"y":-456,"x2":0,"y2":-667},

      {"m":"Ni","c":"Shallow","x":0.44,"y":-15,"x2":0.3,"y2":-330},{"m":"Ni","c":"Shallow","x":1.05,"y":-87,"x2":1.32,"y2":-250},
      {"m":"Ni","c":"Shallow Int","x":0.51,"y":70,"x2":0.66,"y2":-81},{"m":"Ni","c":"Shallow Int","x":0.66,"y":-81,"x2":0.69,"y2":-236},{"m":"Ni","c":"Shallow Int","x":0.98,"y":-2,"x2":0.24,"y2":-262},{"m":"Ni","c":"Shallow Int","x":0.91,"y":-2,"x2":0.42,"y2":-250},{"m":"Ni","c":"Shallow Int","x":1.55,"y":22,"x2":0.88,"y2":-202},{"m":"Ni","c":"Shallow Int","x":1.59,"y":-87,"x2":0.57,"y2":-323},{"m":"Ni","c":"Shallow Int","x":1.73,"y":-105,"x2":0.88,"y2":-202},{"m":"Ni","c":"Shallow Int","x":3.36,"y":-45,"x2":0.6,"y2":-370},{"m":"Ni","c":"Shallow Int","x":1.31,"y":-262,"x2":1.05,"y2":-456},{"m":"Ni","c":"Shallow Int","x":0.88,"y":-202,"x2":0.83,"y2":-365},
      {"m":"Ni","c":"Deep Int","x":1.44,"y":-15,"x2":1.58,"y2":-414},{"m":"Ni","c":"Deep Int","x":0.26,"y":-353,"x2":0.23,"y2":-553},{"m":"Ni","c":"Deep Int","x":0.39,"y":-250,"x2":0.39,"y2":-438},{"m":"Ni","c":"Deep Int","x":0.42,"y":-300,"x2":0.34,"y2":-637},{"m":"Ni","c":"Deep Int","x":0.73,"y":-250,"x2":0.73,"y2":-446},{"m":"Ni","c":"Deep Int","x":0.3,"y":-270,"x2":0.5,"y2":-420},
      {"m":"Ni","c":"Deep","x":0.18,"y":-994,"x2":0.4,"y2":-704},{"m":"Ni","c":"Deep","x":0.4,"y":-704,"x2":0.55,"y2":-420},{"m":"Ni","c":"Deep","x":0.64,"y":-667,"x2":0.7,"y2":-420},{"m":"Ni","c":"Deep","x":0.65,"y":-460,"x2":0.86,"y2":-712},{"m":"Ni","c":"Deep","x":0.51,"y":-695,"x2":0.6,"y2":-450},

      {"m":"Zn","c":"Shallow","x":0.35,"y":110,"x2":0.5,"y2":-200},
      {"m":"Zn","c":"Shallow Int","x":5.7,"y":5,"x2":1.5,"y2":-200},{"m":"Zn","c":"Shallow Int","x":5.7,"y":-85,"x2":1.8,"y2":-300},{"m":"Zn","c":"Shallow Int","x":0.3,"y":80,"x2":0.5,"y2":-330},{"m":"Zn","c":"Shallow Int","x":1.2,"y":21,"x2":1.2,"y2":-300},
      {"m":"Zn","c":"Deep Int","x":26.2,"y":2,"x2":1.5,"y2":-390},{"m":"Zn","c":"Deep Int","x":0.3,"y":-230,"x2":0.3,"y2":-650},
      {"m":"Zn","c":"Deep","x":0.2,"y":-1004,"x2":0.64,"y2":-858},{"m":"Zn","c":"Deep","x":0.64,"y":-858,"x2":0.93,"y2":-693},{"m":"Zn","c":"Deep","x":0.93,"y":-693,"x2":0.8,"y2":-420},{"m":"Zn","c":"Deep","x":1.5,"y":-370,"x2":3.4,"y2":-717},

      {"m":"Cr","c":"Shallow","x":0.07,"y":-33,"x2":0.1,"y2":-250},{"m":"Cr","c":"Shallow","x":0.27,"y":-75,"x2":0.2,"y2":-250},
      {"m":"Cr","c":"Shallow Int","x":0.2,"y":-230,"x2":1.64,"y2":73},{"m":"Cr","c":"Shallow Int","x":0.2,"y":-250,"x2":2.42,"y2":2},{"m":"Cr","c":"Shallow Int","x":0.3,"y":-235,"x2":3.45,"y2":2},{"m":"Cr","c":"Shallow Int","x":0.62,"y":-377,"x2":4.44,"y2":-33},{"m":"Cr","c":"Shallow Int","x":0.45,"y":30,"x2":0.4,"y2":-330},{"m":"Cr","c":"Shallow Int","x":0.35,"y":-40,"x2":0.5,"y2":-367},
      {"m":"Cr","c":"Deep Int","x":0.1,"y":-270,"x2":2.97,"y2":-459},{"m":"Cr","c":"Deep Int","x":1.64,"y":-446,"x2":5.59,"y2":-248},{"m":"Cr","c":"Deep Int","x":0.62,"y":-377,"x2":0.6,"y2":-645},{"m":"Cr","c":"Deep Int","x":0.5,"y":20,"x2":0.3,"y2":-300},
      {"m":"Cr","c":"Deep","x":0.06,"y":-1000,"x2":0.04,"y2":-702},{"m":"Cr","c":"Deep","x":0.04,"y":-702,"x2":0.1,"y2":-300},{"m":"Cr","c":"Deep","x":1.23,"y":-671,"x2":1.64,"y2":-446},{"m":"Cr","c":"Deep","x":0.2,"y":-330,"x2":0.77,"y2":-708},

      {"m":"Se","c":"Shallow","x":0.19,"y":69,"x2":0.2,"y2":-300},{"m":"Se","c":"Shallow","x":0.3,"y":-130,"x2":0.85,"y2":-275},
      {"m":"Se","c":"Shallow Int","x":0.5,"y":9,"x2":1.06,"y2":-162},{"m":"Se","c":"Shallow Int","x":0.25,"y":30,"x2":0.87,"y2":-265},{"m":"Se","c":"Shallow Int","x":0.87,"y":-265,"x2":2.75,"y2":-372},{"m":"Se","c":"Shallow Int","x":2.2,"y":-44,"x2":1.34,"y2":-389},{"m":"Se","c":"Shallow Int","x":0.3,"y":0,"x2":1.6,"y2":-460},{"m":"Se","c":"Shallow Int","x":0.2,"y":-200,"x2":0.85,"y2":-220},{"m":"Se","c":"Shallow Int","x":0.14,"y":80,"x2":0.15,"y2":-300},
      {"m":"Se","c":"Deep Int","x":1.34,"y":-389,"x2":1.69,"y2":-648},{"m":"Se","c":"Deep Int","x":0.15,"y":-250,"x2":0.45,"y2":-465},{"m":"Se","c":"Deep Int","x":0.2,"y":-250,"x2":0.17,"y2":-556},
      {"m":"Se","c":"Deep","x":1.0,"y":-330,"x2":4.59,"y2":-717},{"m":"Se","c":"Deep","x":0.19,"y":-708,"x2":0.91,"y2":-1000},{"m":"Se","c":"Deep","x":0.19,"y":-250,"x2":0.19,"y2":-708},{"m":"Se","c":"Deep","x":0.3,"y":-400,"x2":0.33,"y2":-672},{"m":"Se","c":"Deep","x":0.3,"y":-430,"x2":0.88,"y2":-696}
    ]
  },
  "hconcat": [
    {"width": 18, "height": 1400, "view": {"fill": "#E8E8E8", "stroke": null}, "data": {"values": [{"t": ""}]}, "mark": {"type": "text"}, "encoding": {"text": {"field": "t"}}},
    {
      "hconcat": [
        {"width": 30, "height": 802, "view": {"fill": "#FFFFFF", "stroke": null}, "data": {"values": [{"t": "Elevation (ft)"}]}, "mark": {"type": "text", "angle": 270, "fontSize": 29, "baseline": "middle", "color": "#000000"}, "encoding": {"text": {"field": "t"}}},
        {
          "vconcat": [
            {
              "vconcat": [
                {
                  "hconcat": [
                    {
                      "hconcat": [
                        {
                          "hconcat": [
                            {"vconcat": [
                              {"width": 475, "height": 58, "view": {"fill": "#D9D9D9", "stroke": "#333333", "strokeWidth": 2}, "data": {"values": [{"t": "Dis_Al ug/L"}]}, "mark": {"type": "text", "fontSize": 27, "color": "#1A1A1A", "baseline": "middle"}, "encoding": {"text": {"field": "t"}}},
                              {"width": 475, "height": 334,
                               "encoding": {
                                 "x": {"field": "x", "type": "quantitative", "scale": {"domain": [-2.7, 64.6], "nice": false, "zero": false}, "axis": {"values": [0,10,20,30,40,50,60], "format": "d", "labelExpr": "indexof([10,30,50], datum.value) >= 0 ? '' : datum.label", "gridWidth": {"condition": {"test": "indexof([10,30,50], datum.value) >= 0", "value": 1.2}, "value": 2.2}, "tickOpacity": {"condition": {"test": "indexof([10,30,50], datum.value) >= 0", "value": 0}, "value": 1}, "title": null}},
                                 "y": {"field": "y", "type": "quantitative", "scale": {"domain": [-1055, 163], "nice": false, "zero": false}, "axis": {"values": [-1000,-875,-750,-625,-500,-375,-250,-125,0,125], "labelExpr": "datum.value % 250 === 0 ? '' + datum.value : ''", "gridWidth": {"condition": {"test": "datum.value % 250 !== 0", "value": 1.2}, "value": 2.2}, "tickOpacity": {"condition": {"test": "datum.value % 250 !== 0", "value": 0}, "value": 1}, "title": null}},
                                 "color": {"field": "c", "type": "nominal", "scale": {"domain": ["Shallow","Shallow Int","Deep Int","Deep"], "range": ["#F8766D","#7CAE00","#00BFC4","#C77CFF"]},
                                   "legend": {"title": "well_category", "orient": "none", "legendX": 1287, "legendY": 946, "symbolType": "M-1,0L1,0M0.36,0A0.36,0.36,0,1,1,-0.36,0A0.36,0.36,0,1,1,0.36,0Z", "symbolSize": 1936, "symbolStrokeWidth": 4, "labelFontSize": 26, "labelColor": "#000000", "titleFontSize": 28, "titleFontWeight": "normal", "titleColor": "#000000", "titleLimit": 500, "rowPadding": 18, "titlePadding": 20, "labelOffset": 22, "padding": 0,
                                     "encode": {"symbols": {"update": {"fill": {"scale": "color", "field": "value"}, "stroke": {"scale": "color", "field": "value"}, "opacity": {"value": 1}}}}}}
                               },
                               "layer": [
                                 {"data": {"name": "seg"}, "transform": [{"filter": "datum.m === 'Al'"}], "mark": {"type": "rule", "strokeWidth": 4}, "encoding": {"x2": {"field": "x2"}, "y2": {"field": "y2"}}},
                                 {"data": {"name": "pts"}, "transform": [{"filter": "datum.m === 'Al'"}], "mark": {"type": "circle", "size": 280, "opacity": 1}}
                               ]}
                            ], "spacing": 0, "bounds": "flush"},
                            {"vconcat": [
                              {"width": 476, "height": 58, "view": {"fill": "#D9D9D9", "stroke": "#333333", "strokeWidth": 2}, "data": {"values": [{"t": "Dis_As ug/L"}]}, "mark": {"type": "text", "fontSize": 27, "color": "#1A1A1A", "baseline": "middle"}, "encoding": {"text": {"field": "t"}}},
                              {"width": 476, "height": 334,
                               "encoding": {
                                 "x": {"field": "x", "type": "quantitative", "scale": {"domain": [-13.8, 275.7], "nice": false, "zero": false}, "axis": {"values": [0,50,100,150,200,250], "format": "d", "labelExpr": "indexof([50,150,250], datum.value) >= 0 ? '' : datum.label", "gridWidth": {"condition": {"test": "indexof([50,150,250], datum.value) >= 0", "value": 1.2}, "value": 2.2}, "tickOpacity": {"condition": {"test": "indexof([50,150,250], datum.value) >= 0", "value": 0}, "value": 1}, "title": null}},
                                 "y": {"field": "y", "type": "quantitative", "scale": {"domain": [-1055, 163], "nice": false, "zero": false}, "axis": {"values": [-1000,-875,-750,-625,-500,-375,-250,-125,0,125], "labels": false, "ticks": false, "gridWidth": {"condition": {"test": "datum.value % 250 !== 0", "value": 1.2}, "value": 2.2}, "title": null}},
                                 "color": {"field": "c", "type": "nominal", "scale": {"domain": ["Shallow","Shallow Int","Deep Int","Deep"], "range": ["#F8766D","#7CAE00","#00BFC4","#C77CFF"]}, "legend": null}
                               },
                               "layer": [
                                 {"data": {"name": "seg"}, "transform": [{"filter": "datum.m === 'As'"}], "mark": {"type": "rule", "strokeWidth": 4}, "encoding": {"x2": {"field": "x2"}, "y2": {"field": "y2"}}},
                                 {"data": {"name": "pts"}, "transform": [{"filter": "datum.m === 'As'"}], "mark": {"type": "circle", "size": 280, "opacity": 1}}
                               ]}
                            ], "spacing": 0, "bounds": "flush"}
                          ],
                          "spacing": 15
                        },
                        {"vconcat": [
                          {"width": 476, "height": 58, "view": {"fill": "#D9D9D9", "stroke": "#333333", "strokeWidth": 2}, "data": {"values": [{"t": "Dis_Cd ug/L"}]}, "mark": {"type": "text", "fontSize": 27, "color": "#1A1A1A", "baseline": "middle"}, "encoding": {"text": {"field": "t"}}},
                          {"width": 476, "height": 334,
                           "encoding": {
                             "x": {"field": "x", "type": "quantitative", "scale": {"domain": [0.0984, 0.1327], "nice": false, "zero": false}, "axis": {"values": [0.1,0.105,0.11,0.115,0.12,0.125,0.13], "format": ".2f", "labelExpr": "indexof([0.105,0.115,0.125], datum.value) >= 0 ? '' : datum.label", "gridWidth": {"condition": {"test": "indexof([0.105,0.115,0.125], datum.value) >= 0", "value": 1.2}, "value": 2.2}, "tickOpacity": {"condition": {"test": "indexof([0.105,0.115,0.125], datum.value) >= 0", "value": 0}, "value": 1}, "title": null}},
                             "y": {"field": "y", "type": "quantitative", "scale": {"domain": [-1055, 163], "nice": false, "zero": false}, "axis": {"values": [-1000,-875,-750,-625,-500,-375,-250,-125,0,125], "labels": false, "ticks": false, "gridWidth": {"condition": {"test": "datum.value % 250 !== 0", "value": 1.2}, "value": 2.2}, "title": null}},
                             "color": {"field": "c", "type": "nominal", "scale": {"domain": ["Shallow","Shallow Int","Deep Int","Deep"], "range": ["#F8766D","#7CAE00","#00BFC4","#C77CFF"]}, "legend": null}
                           },
                           "layer": [
                             {"data": {"name": "seg"}, "transform": [{"filter": "datum.m === 'Cd'"}], "mark": {"type": "rule", "strokeWidth": 4}, "encoding": {"x2": {"field": "x2"}, "y2": {"field": "y2"}}},
                             {"data": {"name": "pts"}, "transform": [{"filter": "datum.m === 'Cd'"}], "mark": {"type": "circle", "size": 280, "opacity": 1}}
                           ]}
                        ], "spacing": 0, "bounds": "flush"}
                      ],
                      "spacing": 10
                    },
                    {"vconcat": [
                      {"width": 477, "height": 58, "view": {"fill": "#D9D9D9", "stroke": "#333333", "strokeWidth": 2}, "data": {"values": [{"t": "Dis_Cu ug/L"}]}, "mark": {"type": "text", "fontSize": 27, "color": "#1A1A1A", "baseline": "middle"}, "encoding": {"text": {"field": "t"}}},
                      {"width": 477, "height": 334,
                       "encoding": {
                         "x": {"field": "x", "type": "quantitative", "scale": {"domain": [-0.027, 1.655], "nice": false, "zero": false}, "axis": {"values": [0,0.25,0.5,0.75,1,1.25,1.5], "format": ".1f", "labelExpr": "indexof([0.25,0.75,1.25], datum.value) >= 0 ? '' : datum.label", "gridWidth": {"condition": {"test": "indexof([0.25,0.75,1.25], datum.value) >= 0", "value": 1.2}, "value": 2.2}, "tickOpacity": {"condition": {"test": "indexof([0.25,0.75,1.25], datum.value) >= 0", "value": 0}, "value": 1}, "title": null}},
                         "y": {"field": "y", "type": "quantitative", "scale": {"domain": [-1055, 163], "nice": false, "zero": false}, "axis": {"values": [-1000,-875,-750,-625,-500,-375,-250,-125,0,125], "labels": false, "ticks": false, "gridWidth": {"condition": {"test": "datum.value % 250 !== 0", "value": 1.2}, "value": 2.2}, "title": null}},
                         "color": {"field": "c", "type": "nominal", "scale": {"domain": ["Shallow","Shallow Int","Deep Int","Deep"], "range": ["#F8766D","#7CAE00","#00BFC4","#C77CFF"]}, "legend": null}
                       },
                       "layer": [
                         {"data": {"name": "seg"}, "transform": [{"filter": "datum.m === 'Cu'"}], "mark": {"type": "rule", "strokeWidth": 4}, "encoding": {"x2": {"field": "x2"}, "y2": {"field": "y2"}}},
                         {"data": {"name": "pts"}, "transform": [{"filter": "datum.m === 'Cu'"}], "mark": {"type": "circle", "size": 280, "opacity": 1}}
                       ]}
                    ], "spacing": 0, "bounds": "flush"}
                  ],
                  "spacing": 11
                },
                {
                  "hconcat": [
                    {
                      "hconcat": [
                        {
                          "hconcat": [
                            {"vconcat": [
                              {"width": 475, "height": 58, "view": {"fill": "#D9D9D9", "stroke": "#333333", "strokeWidth": 2}, "data": {"values": [{"t": "Dis_Fe ug/L"}]}, "mark": {"type": "text", "fontSize": 27, "color": "#1A1A1A", "baseline": "middle"}, "encoding": {"text": {"field": "t"}}},
                              {"width": 475, "height": 334,
                               "encoding": {
                                 "x": {"field": "x", "type": "quantitative", "scale": {"domain": [-9.7, 240.8], "nice": false, "zero": false}, "axis": {"values": [0,25,50,75,100,125,150,175,200,225], "format": "d", "labelExpr": "indexof([25,75,125,175,225], datum.value) >= 0 ? '' : datum.label", "gridWidth": {"condition": {"test": "indexof([25,75,125,175,225], datum.value) >= 0", "value": 1.2}, "value": 2.2}, "tickOpacity": {"condition": {"test": "indexof([25,75,125,175,225], datum.value) >= 0", "value": 0}, "value": 1}, "title": null}},
                                 "y": {"field": "y", "type": "quantitative", "scale": {"domain": [-1055, 163], "nice": false, "zero": false}, "axis": {"values": [-1000,-875,-750,-625,-500,-375,-250,-125,0,125], "labelExpr": "datum.value % 250 === 0 ? '' + datum.value : ''", "gridWidth": {"condition": {"test": "datum.value % 250 !== 0", "value": 1.2}, "value": 2.2}, "tickOpacity": {"condition": {"test": "datum.value % 250 !== 0", "value": 0}, "value": 1}, "title": null}},
                                 "color": {"field": "c", "type": "nominal", "scale": {"domain": ["Shallow","Shallow Int","Deep Int","Deep"], "range": ["#F8766D","#7CAE00","#00BFC4","#C77CFF"]}, "legend": null}
                               },
                               "layer": [
                                 {"data": {"name": "seg"}, "transform": [{"filter": "datum.m === 'Fe'"}], "mark": {"type": "rule", "strokeWidth": 4}, "encoding": {"x2": {"field": "x2"}, "y2": {"field": "y2"}}},
                                 {"data": {"name": "pts"}, "transform": [{"filter": "datum.m === 'Fe'"}], "mark": {"type": "circle", "size": 280, "opacity": 1}}
                               ]}
                            ], "spacing": 0, "bounds": "flush"},
                            {"vconcat": [
                              {"width": 476, "height": 58, "view": {"fill": "#D9D9D9", "stroke": "#333333", "strokeWidth": 2}, "data": {"values": [{"t": "Dis_Mn ug/L"}]}, "mark": {"type": "text", "fontSize": 27, "color": "#1A1A1A", "baseline": "middle"}, "encoding": {"text": {"field": "t"}}},
                              {"width": 476, "height": 334,
                               "encoding": {
                                 "x": {"field": "x", "type": "quantitative", "scale": {"domain": [-28.3, 567.5], "nice": false, "zero": false}, "axis": {"values": [0,100,200,300,400,500], "format": "d", "labelExpr": "indexof([100,300,500], datum.value) >= 0 ? '' : datum.label", "gridWidth": {"condition": {"test": "indexof([100,300,500], datum.value) >= 0", "value": 1.2}, "value": 2.2}, "tickOpacity": {"condition": {"test": "indexof([100,300,500], datum.value) >= 0", "value": 0}, "value": 1}, "title": null}},
                                 "y": {"field": "y", "type": "quantitative", "scale": {"domain": [-1055, 163], "nice": false, "zero": false}, "axis": {"values": [-1000,-875,-750,-625,-500,-375,-250,-125,0,125], "labels": false, "ticks": false, "gridWidth": {"condition": {"test": "datum.value % 250 !== 0", "value": 1.2}, "value": 2.2}, "title": null}},
                                 "color": {"field": "c", "type": "nominal", "scale": {"domain": ["Shallow","Shallow Int","Deep Int","Deep"], "range": ["#F8766D","#7CAE00","#00BFC4","#C77CFF"]}, "legend": null}
                               },
                               "layer": [
                                 {"data": {"name": "seg"}, "transform": [{"filter": "datum.m === 'Mn'"}], "mark": {"type": "rule", "strokeWidth": 4}, "encoding": {"x2": {"field": "x2"}, "y2": {"field": "y2"}}},
                                 {"data": {"name": "pts"}, "transform": [{"filter": "datum.m === 'Mn'"}], "mark": {"type": "circle", "size": 280, "opacity": 1}}
                               ]}
                            ], "spacing": 0, "bounds": "flush"}
                          ],
                          "spacing": 15
                        },
                        {"vconcat": [
                          {"width": 476, "height": 58, "view": {"fill": "#D9D9D9", "stroke": "#333333", "strokeWidth": 2}, "data": {"values": [{"t": "Dis_Ni ug/L"}]}, "mark": {"type": "text", "fontSize": 27, "color": "#1A1A1A", "baseline": "middle"}, "encoding": {"text": {"field": "t"}}},
                          {"width": 476, "height": 334,
                           "encoding": {
                             "x": {"field": "x", "type": "quantitative", "scale": {"domain": [0.02, 3.52], "nice": false, "zero": false}, "axis": {"values": [0.5,1,1.5,2,2.5,3,3.5], "format": "d", "labelExpr": "indexof([0.5,1.5,2.5,3.5], datum.value) >= 0 ? '' : datum.label", "gridWidth": {"condition": {"test": "indexof([0.5,1.5,2.5,3.5], datum.value) >= 0", "value": 1.2}, "value": 2.2}, "tickOpacity": {"condition": {"test": "indexof([0.5,1.5,2.5,3.5], datum.value) >= 0", "value": 0}, "value": 1}, "title": null}},
                             "y": {"field": "y", "type": "quantitative", "scale": {"domain": [-1055, 163], "nice": false, "zero": false}, "axis": {"values": [-1000,-875,-750,-625,-500,-375,-250,-125,0,125], "labels": false, "ticks": false, "gridWidth": {"condition": {"test": "datum.value % 250 !== 0", "value": 1.2}, "value": 2.2}, "title": null}},
                             "color": {"field": "c", "type": "nominal", "scale": {"domain": ["Shallow","Shallow Int","Deep Int","Deep"], "range": ["#F8766D","#7CAE00","#00BFC4","#C77CFF"]}, "legend": null}
                           },
                           "layer": [
                             {"data": {"name": "seg"}, "transform": [{"filter": "datum.m === 'Ni'"}], "mark": {"type": "rule", "strokeWidth": 4}, "encoding": {"x2": {"field": "x2"}, "y2": {"field": "y2"}}},
                             {"data": {"name": "pts"}, "transform": [{"filter": "datum.m === 'Ni'"}], "mark": {"type": "circle", "size": 280, "opacity": 1}}
                           ]}
                        ], "spacing": 0, "bounds": "flush"}
                      ],
                      "spacing": 15
                    },
                    {"vconcat": [
                      {"width": 477, "height": 58, "view": {"fill": "#D9D9D9", "stroke": "#333333", "strokeWidth": 2}, "data": {"values": [{"t": "Dis_Zn ug/L"}]}, "mark": {"type": "text", "fontSize": 27, "color": "#1A1A1A", "baseline": "middle"}, "encoding": {"text": {"field": "t"}}},
                      {"width": 477, "height": 334,
                       "encoding": {
                         "x": {"field": "x", "type": "quantitative", "scale": {"domain": [-1.77, 39.8], "nice": false, "zero": false}, "axis": {"values": [0,5,10,15,20,25,30,35], "format": "d", "labelExpr": "indexof([5,15,25,35], datum.value) >= 0 ? '' : datum.label", "gridWidth": {"condition": {"test": "indexof([5,15,25,35], datum.value) >= 0", "value": 1.2}, "value": 2.2}, "tickOpacity": {"condition": {"test": "indexof([5,15,25,35], datum.value) >= 0", "value": 0}, "value": 1}, "title": null}},
                         "y": {"field": "y", "type": "quantitative", "scale": {"domain": [-1055, 163], "nice": false, "zero": false}, "axis": {"values": [-1000,-875,-750,-625,-500,-375,-250,-125,0,125], "labels": false, "ticks": false, "gridWidth": {"condition": {"test": "datum.value % 250 !== 0", "value": 1.2}, "value": 2.2}, "title": null}},
                         "color": {"field": "c", "type": "nominal", "scale": {"domain": ["Shallow","Shallow Int","Deep Int","Deep"], "range": ["#F8766D","#7CAE00","#00BFC4","#C77CFF"]}, "legend": null}
                       },
                       "layer": [
                         {"data": {"name": "seg"}, "transform": [{"filter": "datum.m === 'Zn'"}], "mark": {"type": "rule", "strokeWidth": 4}, "encoding": {"x2": {"field": "x2"}, "y2": {"field": "y2"}}},
                         {"data": {"name": "pts"}, "transform": [{"filter": "datum.m === 'Zn'"}], "mark": {"type": "circle", "size": 280, "opacity": 1}}
                       ]}
                    ], "spacing": 0, "bounds": "flush"}
                  ],
                  "spacing": 22
                }
              ],
              "spacing": 22
            },
            {
              "hconcat": [
                {"width": 7, "height": 10, "data": {"values": [{"t": ""}]}, "mark": {"type": "text"}, "encoding": {"text": {"field": "t"}}, "view": {"fill": "#FFFFFF", "stroke": null}},
                {"vconcat": [
                  {"width": 473, "height": 58, "view": {"fill": "#D9D9D9", "stroke": "#333333", "strokeWidth": 2}, "data": {"values": [{"t": "Dis_Cr ug/L"}]}, "mark": {"type": "text", "fontSize": 27, "color": "#1A1A1A", "baseline": "middle"}, "encoding": {"text": {"field": "t"}}},
                  {"width": 473, "height": 333,
                   "encoding": {
                     "x": {"field": "x", "type": "quantitative", "scale": {"domain": [-0.22, 5.83], "nice": false, "zero": false}, "axis": {"values": [0,1,2,3,4,5], "format": "d", "labelExpr": "indexof([1,3,5], datum.value) >= 0 ? '' : datum.label", "gridWidth": {"condition": {"test": "indexof([1,3,5], datum.value) >= 0", "value": 1.2}, "value": 2.2}, "tickOpacity": {"condition": {"test": "indexof([1,3,5], datum.value) >= 0", "value": 0}, "value": 1}, "title": null}},
                     "y": {"field": "y", "type": "quantitative", "scale": {"domain": [-1055, 163], "nice": false, "zero": false}, "axis": {"values": [-1000,-875,-750,-625,-500,-375,-250,-125,0,125], "labels": false, "ticks": false, "gridWidth": {"condition": {"test": "datum.value % 250 !== 0", "value": 1.2}, "value": 2.2}, "title": null}},
                     "color": {"field": "c", "type": "nominal", "scale": {"domain": ["Shallow","Shallow Int","Deep Int","Deep"], "range": ["#F8766D","#7CAE00","#00BFC4","#C77CFF"]}, "legend": null}
                   },
                   "layer": [
                     {"data": {"name": "seg"}, "transform": [{"filter": "datum.m === 'Cr'"}], "mark": {"type": "rule", "strokeWidth": 4}, "encoding": {"x2": {"field": "x2"}, "y2": {"field": "y2"}}},
                     {"data": {"name": "pts"}, "transform": [{"filter": "datum.m === 'Cr'"}], "mark": {"type": "circle", "size": 280, "opacity": 1}}
                   ]}
                ], "spacing": 0, "bounds": "flush"},
                {"width": 47, "height": 10, "data": {"values": [{"t": ""}]}, "mark": {"type": "text"}, "encoding": {"text": {"field": "t"}}, "view": {"fill": "#FFFFFF", "stroke": null}},
                {"vconcat": [
                  {"width": 474, "height": 58, "view": {"fill": "#D9D9D9", "stroke": "#333333", "strokeWidth": 2}, "data": {"values": [{"t": "Dis_Se ug/L"}]}, "mark": {"type": "text", "fontSize": 27, "color": "#1A1A1A", "baseline": "middle"}, "encoding": {"text": {"field": "t"}}},
                  {"width": 474, "height": 333,
                   "encoding": {
                     "x": {"field": "x", "type": "quantitative", "scale": {"domain": [-0.03, 4.8], "nice": false, "zero": false}, "axis": {"values": [0,0.5,1,1.5,2,2.5,3,3.5,4,4.5], "format": "d", "labelExpr": "indexof([0.5,1.5,2.5,3.5,4.5], datum.value) >= 0 ? '' : datum.label", "gridWidth": {"condition": {"test": "indexof([0.5,1.5,2.5,3.5,4.5], datum.value) >= 0", "value": 1.2}, "value": 2.2}, "tickOpacity": {"condition": {"test": "indexof([0.5,1.5,2.5,3.5,4.5], datum.value) >= 0", "value": 0}, "value": 1}, "title": "Concentration", "titleX": 562, "titleY": 63, "titleBaseline": "middle"}},
                     "y": {"field": "y", "type": "quantitative", "scale": {"domain": [-1055, 163], "nice": false, "zero": false}, "axis": {"values": [-1000,-875,-750,-625,-500,-375,-250,-125,0,125], "labels": false, "ticks": false, "gridWidth": {"condition": {"test": "datum.value % 250 !== 0", "value": 1.2}, "value": 2.2}, "title": null}},
                     "color": {"field": "c", "type": "nominal", "scale": {"domain": ["Shallow","Shallow Int","Deep Int","Deep"], "range": ["#F8766D","#7CAE00","#00BFC4","#C77CFF"]}, "legend": null}
                   },
                   "layer": [
                     {"data": {"name": "seg"}, "transform": [{"filter": "datum.m === 'Se'"}], "mark": {"type": "rule", "strokeWidth": 4}, "encoding": {"x2": {"field": "x2"}, "y2": {"field": "y2"}}},
                     {"data": {"name": "pts"}, "transform": [{"filter": "datum.m === 'Se'"}], "mark": {"type": "circle", "size": 280, "opacity": 1}}
                   ]}
                ], "spacing": 0, "bounds": "flush"}
              ],
              "spacing": 0
            }
          ],
          "spacing": 33
        }
      ],
      "spacing": 12
    }
  ],
  "spacing": 23
}
